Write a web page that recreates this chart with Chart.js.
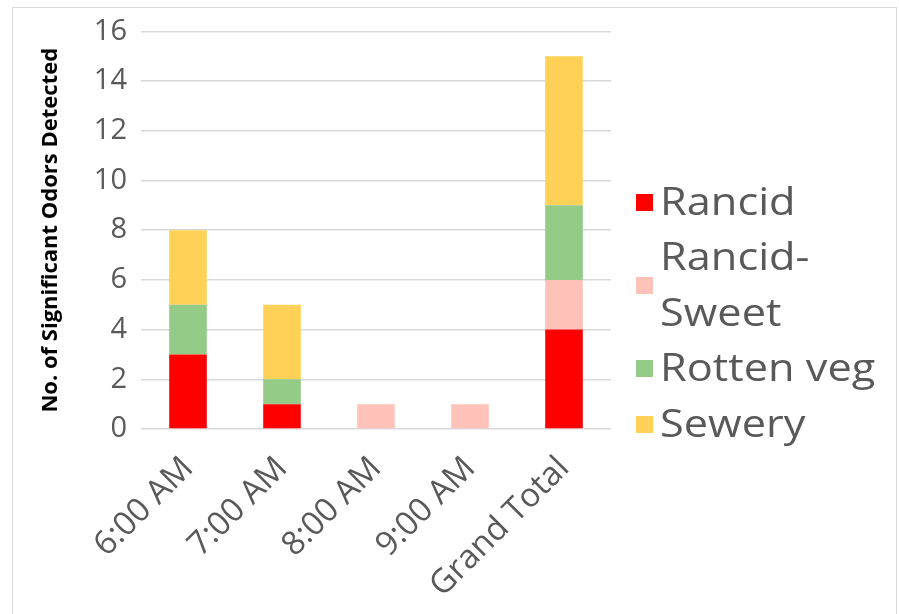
<!DOCTYPE html>
<html>
<head>
<meta charset="utf-8">
<script src="https://cdn.jsdelivr.net/npm/chart.js@4/dist/chart.umd.min.js"></script>
<style>
  html, body { margin: 0; padding: 0; background: #fff; }
  #wrap { width: 899px; height: 614px; position: relative; }
</style>
</head>
<body>
<div id="wrap"><canvas id="chart"></canvas></div>
<script>
// Odor detections per sampling hour, stacked by odor type
const categories = ['6:00 AM', '7:00 AM', '8:00 AM', '9:00 AM', 'Grand Total'];
const seriesNames = ['Rancid', 'Rancid-Sweet', 'Rotten veg', 'Sewery'];
const rancid      = [3, 1, 0, 0, 4];
const rancidSweet = [0, 0, 1, 1, 2];
const rottenVeg   = [2, 1, 0, 0, 3];
const sewery      = [3, 3, 0, 0, 6];
const yTickValues = [0, 2, 4, 6, 8, 10, 12, 14, 16];
const yTitle = 'No. of Significant Odors Detected';

const seriesColors = ['#FF0000', '#FFC2B8', '#93CB87', '#FFD257'];
const seriesValues = [rancid, rancidSweet, rottenVeg, sewery];

const textGray = '#595959';
const gridGray = '#D9D9D9';
const baseFont = '"Open Sans", "DejaVu Sans", sans-serif';

// Outer frame around the whole chart
const framePlugin = {
  id: 'frame',
  beforeDraw(chart) {
    const ctx = chart.ctx;
    ctx.save();
    ctx.fillStyle = '#ffffff';
    ctx.fillRect(0, 0, chart.width, chart.height);
    ctx.strokeStyle = '#D9D9D9';
    ctx.lineWidth = 1;
    ctx.strokeRect(12.5, 7.5, 884, 640);
    ctx.restore();
  }
};

// Right-hand legend with wrapped long names
const sideLegend = {
  id: 'sideLegend',
  afterDraw(chart) {
    const ctx = chart.ctx;
    const x0 = 636, box = 17, textX = 660, stretch = 1.14;
    const maxW = (899 - textX - 14) / stretch;
    const lineStep = 55.5;
    let y = 202;
    ctx.save();
    ctx.font = '38px ' + baseFont;
    ctx.textBaseline = 'middle';
    ctx.textAlign = 'left';
    chart.data.datasets.forEach(ds => {
      let lines = [ds.label];
      if (ctx.measureText(ds.label).width > maxW && ds.label.includes('-')) {
        const i = ds.label.indexOf('-');
        lines = [ds.label.slice(0, i + 1), ds.label.slice(i + 1)];
      }
      const mid = y + (lines.length - 1) * lineStep / 2;
      ctx.fillStyle = ds.backgroundColor;
      ctx.fillRect(x0, Math.round(mid - box / 2), box, box);
      ctx.fillStyle = textGray;
      lines.forEach((ln, k) => {
        ctx.save();
        ctx.translate(textX, y + k * lineStep + 2);
        ctx.scale(stretch, 1);
        ctx.fillText(ln, 0, 0);
        ctx.restore();
      });
      y += lines.length * lineStep;
    });
    ctx.restore();
  }
};

new Chart(document.getElementById('chart'), {
  type: 'bar',
  data: {
    labels: categories,
    datasets: seriesNames.map((name, i) => ({
      label: name,
      data: seriesValues[i],
      backgroundColor: seriesColors[i],
      borderWidth: 0,
      barPercentage: 0.4,
      categoryPercentage: 1.0
    }))
  },
  options: {
    responsive: true,
    maintainAspectRatio: false,
    animation: false,
    layout: { padding: { top: 29, right: 288, bottom: 0, left: 0 } },
    plugins: {
      legend: { display: false },
      tooltip: { enabled: false }
    },
    scales: {
      x: {
        stacked: true,
        grid: { display: false },
        border: { display: false },
        ticks: {
          color: textGray,
          font: { family: baseFont, size: 33 },
          minRotation: 45,
          maxRotation: 45,
          autoSkip: false,
          padding: 12
        },
        afterFit(scale) { scale.height = 185; }
      },
      y: {
        stacked: true,
        min: 0,
        max: 16,
        afterBuildTicks(scale) { scale.ticks = yTickValues.map(v => ({ value: v })); },
        grid: { color: gridGray, lineWidth: 1.5, drawTicks: false },
        border: { display: false },
        ticks: {
          color: textGray,
          font: { family: baseFont, size: 29 },
          padding: 14
        },
        title: {
          display: true,
          text: yTitle,
          color: '#000000',
          font: { family: baseFont, size: 22, weight: 'bold' },
          padding: { top: 38, bottom: 0 }
        },
        afterFit(scale) { scale.width = 141; }
      }
    }
  },
  plugins: [framePlugin, sideLegend]
});
</script>
</body>
</html>
